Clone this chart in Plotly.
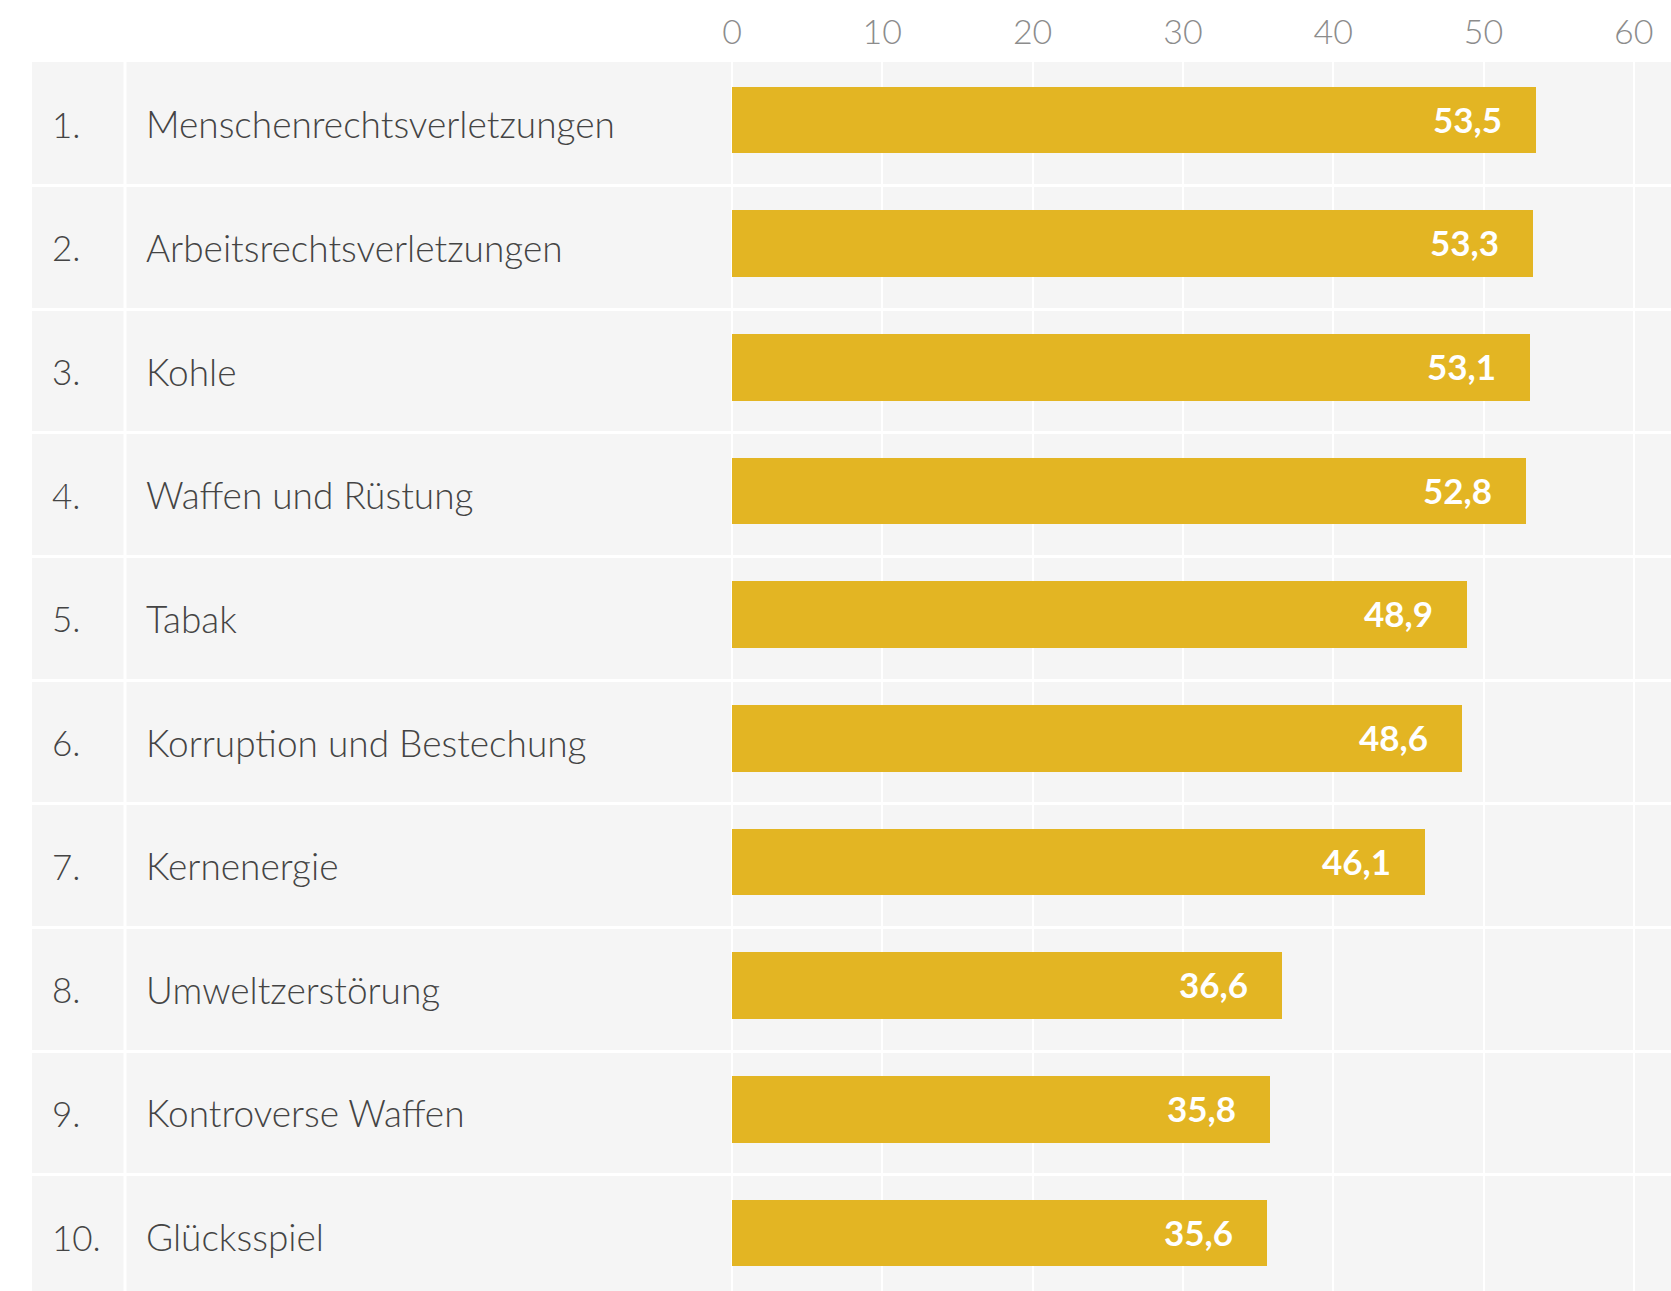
import plotly.graph_objects as go

# Ranking: categories and their values
ranks = ["1.", "2.", "3.", "4.", "5.", "6.", "7.", "8.", "9.", "10."]
categories = ["Menschenrechtsverletzungen", "Arbeitsrechtsverletzungen", "Kohle",
              "Waffen und Rüstung", "Tabak", "Korruption und Bestechung",
              "Kernenergie", "Umweltzerstörung", "Kontroverse Waffen", "Glücksspiel"]
values = [53.5, 53.3, 53.1, 52.8, 48.9, 48.6, 46.1, 36.6, 35.8, 35.6]
tick_vals = [0, 10, 20, 30, 40, 50, 60]

W, H = 1671, 1291
left, top = 32, 62
zero_px = 732
px_per_unit = 15.03
plot_w = W - left
x_range = [-(zero_px - left) / px_per_unit, (plot_w - (zero_px - left)) / px_per_unit]

def px_to_x(px):
    return (px - zero_px) / px_per_unit

font = "Lato"
bar_col = "#E3B523"
idx = list(range(len(categories)))

fig = go.Figure()
fig.add_trace(go.Bar(
    x=values, y=idx, orientation="h", width=0.54, offset=-0.30,
    marker=dict(color=bar_col, line=dict(width=0)),
    hoverinfo="skip",
))

ann = []
for i, (r, c, v) in enumerate(zip(ranks, categories, values)):
    ann.append(dict(x=px_to_x(50), y=i, text=r, xanchor="left", showarrow=False,
                    font=dict(family=font, size=35, color="#444444", weight=300)))
    ann.append(dict(x=px_to_x(144), y=i, text=c, xanchor="left", showarrow=False,
                    font=dict(family=font, size=37, color="#444444", weight=300)))
    ann.append(dict(x=v, y=i, text=f"{v:.1f}".replace(".", ","), xanchor="right",
                    xshift=-32, yshift=5, showarrow=False,
                    font=dict(family=font, size=35, color="white", weight="bold")))

fig.update_layout(
    width=W, height=H,
    margin=dict(l=left, r=0, t=top, b=0),
    paper_bgcolor="white", plot_bgcolor="#F5F5F5",
    showlegend=False, bargap=0,
    annotations=ann,
    shapes=[dict(type="line", xref="x", yref="paper", x0=px_to_x(125), x1=px_to_x(125),
                 y0=0, y1=1, line=dict(color="white", width=3), layer="below")],
    xaxis=dict(range=x_range, side="top", tickvals=tick_vals,
               ticktext=[str(t) for t in tick_vals],
               showgrid=True, gridcolor="white", gridwidth=2, zeroline=False,
               tickfont=dict(family=font, size=34, color="#8c8c8c", weight=300),
               ticks="", ticklabelstandoff=10, fixedrange=True),
    yaxis=dict(range=[9.44, -0.5], tickvals=[i + 0.5 for i in idx[:-1]],
               showticklabels=False, showgrid=True, gridcolor="white", gridwidth=3,
               zeroline=False, ticks="", fixedrange=True),
)

# drop the default page margin so the figure sits at the window corner
fig.write_html("out.html", config={"displayModeBar": False},
               post_script="document.body.style.margin='0';")
